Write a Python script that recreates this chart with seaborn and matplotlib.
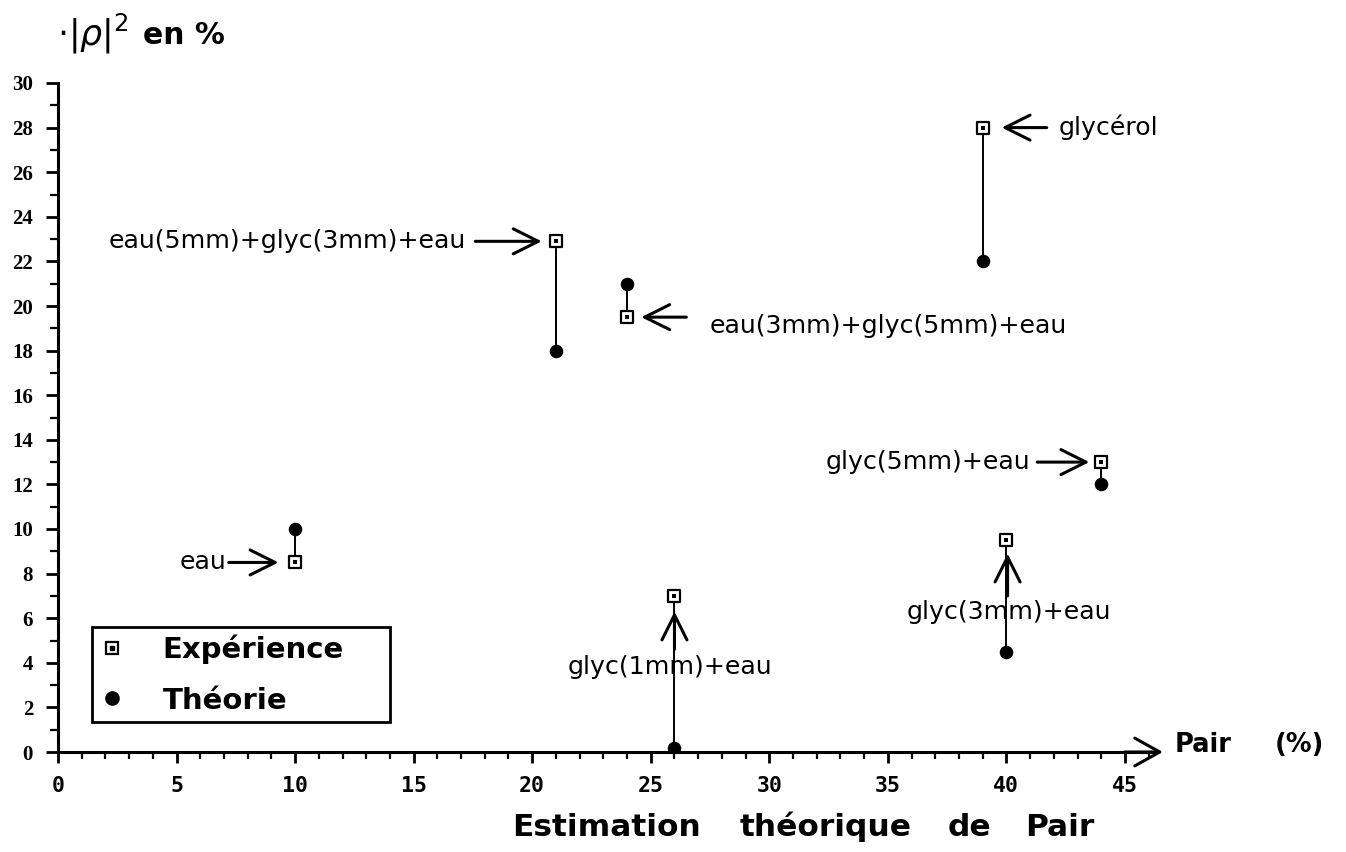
import numpy as np
import pandas as pd
import matplotlib
matplotlib.use("Agg")
import matplotlib.pyplot as plt
from matplotlib.lines import Line2D
from matplotlib.legend_handler import HandlerTuple
from matplotlib.ticker import MultipleLocator
import seaborn as sns

# Samples: estimated Pair (%) and measured / theoretical |rho|^2 (%)
samples = ["eau", "eau(5mm)+glyc(3mm)+eau", "eau(3mm)+glyc(5mm)+eau", "glycérol",
           "glyc(5mm)+eau", "glyc(3mm)+eau", "glyc(1mm)+eau"]
pair_est = [10, 21, 24, 39, 44, 40, 26]
rho_exp = [8.5, 22.9, 19.5, 28, 13, 9.5, 7]
rho_theo = [10, 18, 21, 22, 12, 4.5, 0.2]

x_ticks = [0, 5, 10, 15, 20, 25, 30, 35, 40, 45]
y_ticks = list(range(0, 31, 2))

df = pd.DataFrame({"sample": samples, "pair": pair_est, "exp": rho_exp, "theo": rho_theo})

sns.set_theme(style="white")
plt.rcParams["font.family"] = ["DejaVu Sans"]
plt.rcParams.update({"text.color": "black", "axes.labelcolor": "black",
                     "xtick.color": "black", "ytick.color": "black"})

W, H = 1346, 852
fig = plt.figure(figsize=(W / 100, H / 100), dpi=100)
x0_px, y0_px, px_per_x = 58, 752, 23.71
ax = fig.add_axes([x0_px / W, 1 - y0_px / H, 46.6 * px_per_x / W, 669 / H])

# vertical segments joining experiment and theory for each sample
ax.vlines(df["pair"], df["theo"], df["exp"], color="black", lw=1.4, zorder=2)

sns.scatterplot(data=df, x="pair", y="theo", ax=ax, marker="o", s=95,
                color="black", edgecolor="black", linewidth=0, zorder=3, legend=False)
sns.scatterplot(data=df, x="pair", y="exp", ax=ax, marker="s", s=72,
                facecolor="white", edgecolor="black", linewidth=1.6, zorder=4, legend=False)
sns.scatterplot(data=df, x="pair", y="exp", ax=ax, marker="s", s=6,
                color="black", linewidth=0, zorder=5, legend=False)

ax.set_xlim(0, 46.6)
ax.set_ylim(0, 30)
ax.set_xlabel("")
ax.set_ylabel("")

for side in ("top", "right"):
    ax.spines[side].set_visible(False)
for side in ("left", "bottom"):
    ax.spines[side].set_color("black")
    ax.spines[side].set_linewidth(2.2)
ax.spines["bottom"].set_bounds(0, 46.2)

ax.set_xticks(x_ticks)
ax.set_yticks(y_ticks)
ax.xaxis.set_minor_locator(MultipleLocator(1))
ax.yaxis.set_minor_locator(MultipleLocator(1))
ax.tick_params(axis="x", which="major", direction="out", length=8, width=2,
               color="black", labelcolor="black", pad=9, bottom=True)
ax.tick_params(axis="x", which="minor", direction="out", length=5, width=1.6,
               color="black", bottom=True)
ax.tick_params(axis="y", which="major", direction="out", length=9, width=2,
               color="black", labelcolor="black", pad=9, left=True)
ax.tick_params(axis="y", which="minor", direction="out", length=5.5, width=1.6,
               color="black", left=True)
for lab in ax.get_xticklabels():
    lab.set_fontfamily("DejaVu Sans Mono")
    lab.set_fontweight("bold")
    lab.set_fontsize(15.5)
for lab in ax.get_yticklabels():
    lab.set_fontfamily("Liberation Serif")
    lab.set_fontweight("bold")
    lab.set_fontsize(15)

# arrow head at the end of the x axis
ax.annotate("", xy=(46.6, 0), xytext=(45.0, 0),
            arrowprops=dict(arrowstyle="->,head_length=0.9,head_width=0.5",
                            lw=2.2, color="black", mutation_scale=20,
                            shrinkA=0, shrinkB=0),
            annotation_clip=False)
ax.text((1175 - x0_px) / px_per_x, 0, "Pair", fontsize=18.5, fontweight="bold",
        color="black", va="baseline", ha="left", clip_on=False)
ax.text((1275 - x0_px) / px_per_x, 0, "(%)", fontsize=18.5, fontweight="bold",
        color="black", va="baseline", ha="left", clip_on=False)

# x-axis title, widely spaced words
for word, xpx in [("Estimation", 512), ("théorique", 740), ("de", 948), ("Pair", 1025)]:
    fig.text(xpx / W, 1 - 836 / H, word, fontsize=22.5, fontweight="bold",
             color="black", ha="left", va="baseline")

# y-axis title
fig.text(57 / W, 1 - 34 / H, r"$\cdot|\rho|^{2}$", fontsize=25, color="black",
         ha="left", va="center")
fig.text(143 / W, 1 - 44 / H, "en %", fontsize=21.5, fontweight="bold",
         color="black", ha="left", va="baseline")

arrow_kw = dict(arrowstyle="->,head_length=0.9,head_width=0.45", lw=2.2,
                color="black", mutation_scale=20, shrinkA=0, shrinkB=0)
txt_kw = dict(fontsize=18.2, color="black", va="center")

# (sample, text position, alignment, arrow tail, arrow head)
notes = [
    (samples[0], (7.1, 8.5), "right", (7.2, 8.5), (9.3, 8.5)),
    (samples[1], (17.2, 22.9), "right", (17.6, 22.9), (20.4, 22.9)),
    (samples[2], (27.5, 19.1), "left", (26.5, 19.5), (24.6, 19.5)),
    (samples[3], (42.2, 28.0), "left", (41.7, 28.0), (39.8, 28.0)),
    (samples[4], (41.0, 13.0), "right", (41.3, 13.0), (43.5, 13.0)),
    (samples[5], (40.1, 6.3), "center", (40.05, 7.0), (40.05, 8.9)),
    (samples[6], (25.8, 3.8), "center", (26.0, 4.6), (26.0, 6.3)),
]
for label, tpos, ha, tail, head in notes:
    ax.text(tpos[0], tpos[1], label, ha=ha, **txt_kw)
    ax.annotate("", xy=head, xytext=tail, arrowprops=arrow_kw, annotation_clip=False)

# legend
exp_handle = (Line2D([], [], marker="s", ls="none", ms=9, mfc="white", mec="black", mew=1.6),
              Line2D([], [], marker="s", ls="none", ms=2.2, mfc="black", mec="black"))
theo_handle = Line2D([], [], marker="o", ls="none", ms=9.5, mfc="black", mec="black")
ax_w_px = 46.6 * px_per_x
leg = ax.legend([exp_handle, theo_handle], ["Expérience", "Théorie"],
                handler_map={tuple: HandlerTuple(ndivide=1, pad=0)},
                loc="lower left",
                bbox_to_anchor=((92 - x0_px) / ax_w_px, 30 / 669, 298 / ax_w_px, 0.1),
                mode="expand", borderaxespad=0, frameon=True, fancybox=False,
                prop=dict(family="DejaVu Sans", weight="bold", size=21),
                labelcolor="black",
                handlelength=0.9, handletextpad=1.27, labelspacing=0.78, borderpad=0.25)
leg.get_frame().set_edgecolor("black")
leg.get_frame().set_linewidth(2)
leg.get_frame().set_alpha(1)

fig.savefig("out.png", dpi=100, facecolor="white")
